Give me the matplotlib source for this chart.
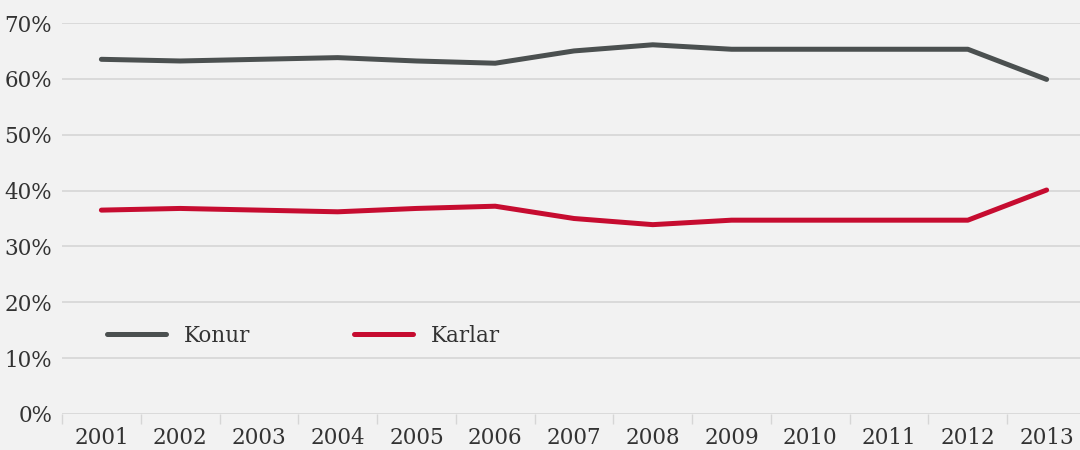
import matplotlib
matplotlib.use("Agg")
import matplotlib.pyplot as plt
from matplotlib.ticker import FixedLocator, PercentFormatter

years = ["2001", "2002", "2003", "2004", "2005", "2006", "2007",
         "2008", "2009", "2010", "2011", "2012", "2013"]
konur = [63.5, 63.2, 63.5, 63.8, 63.2, 62.8, 65.0, 66.1, 65.3, 65.3, 65.3, 65.3, 59.9]
karlar = [36.5, 36.8, 36.5, 36.2, 36.8, 37.2, 35.0, 33.9, 34.7, 34.7, 34.7, 34.7, 40.1]
yticks = [0, 10, 20, 30, 40, 50, 60, 70]

BG = "#f2f2f2"
GRID = "#d6d6d6"
TXT = "#333333"
C_KONUR = "#4b5050"
C_KARLAR = "#c60c30"

plt.rcParams['font.family'] = ['DejaVu Serif']

fig = plt.figure(figsize=(10.8, 4.5), dpi=100, facecolor=BG)
ax = fig.add_axes([62/1080, 36/450, 1024/1080, 391/450])
ax.set_facecolor(BG)

x = list(range(len(years)))
ax.plot(x, konur, color=C_KONUR, lw=3.6, solid_capstyle='round', solid_joinstyle='round', label="Konur", zorder=3)
ax.plot(x, karlar, color=C_KARLAR, lw=3.6, solid_capstyle='round', solid_joinstyle='round', label="Karlar", zorder=3)

ax.set_xlim(-0.5, len(years) - 0.5)
ax.set_ylim(0, 70)
ax.set_yticks(yticks)
ax.yaxis.set_major_formatter(PercentFormatter(decimals=0))
ax.set_xticks(x)
ax.set_xticklabels(years)
ax.xaxis.set_minor_locator(FixedLocator([i - 0.5 for i in range(len(years) + 1)]))

ax.grid(axis='y', color=GRID, lw=1.2, zorder=0)
ax.set_axisbelow(True)
for s in ax.spines.values():
    s.set_visible(False)

ax.tick_params(axis='y', length=0, pad=7, labelsize=15.5, labelcolor=TXT)
ax.tick_params(axis='x', which='major', length=0, pad=9, labelsize=15.5, labelcolor=TXT)
ax.tick_params(axis='x', which='minor', length=7.5, width=1, color=GRID)

leg = ax.legend(loc='center left', bbox_to_anchor=((107 - 62) / 1024, (414 - 336) / 391),
                ncol=2, frameon=False, fontsize=15.5, handlelength=2.75, handletextpad=0.8,
                columnspacing=4.85, borderpad=0, borderaxespad=0)
for t in leg.get_texts():
    t.set_color(TXT)

fig.savefig("out.png", dpi=100, facecolor=BG)
